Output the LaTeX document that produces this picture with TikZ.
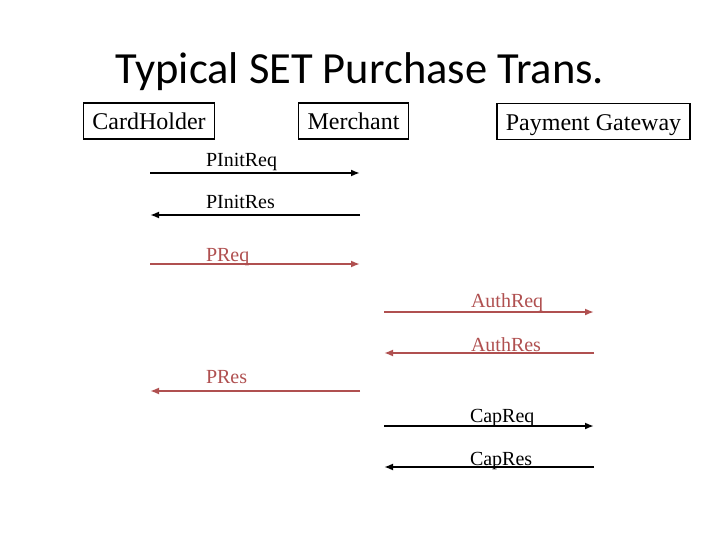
\documentclass[tikz,border=0pt]{standalone}
\usepackage{fontspec}
\setmainfont{Liberation Serif}
\newfontfamily\titlefont{Carlito}
\usetikzlibrary{arrows.meta}
\definecolor{msgred}{RGB}{176,80,80}
\begin{document}
\begin{tikzpicture}[x=1pt, y=-1pt, line width=2pt, >={Latex[length=9pt,width=7pt]},
    party/.style={draw, line width=1.6pt, font=\fontsize{24}{28}\selectfont, inner xsep=9pt, inner ysep=0pt,
      text height=22pt, text depth=4pt, minimum height=36pt},
    msg/.style={font=\fontsize{20}{24}\selectfont, anchor=base west, inner sep=0pt}]
    \useasboundingbox[fill=white] (0,0) rectangle (720,540);
    \node[font=\titlefont\fontsize{44.5}{52}\selectfont, anchor=base] (title) at (360,84) {Typical SET Purchase Trans.};
    % parties
    \node[party] (holder) at (149,121) {CardHolder};
    \node[party] (merchant) at (353.5,121) {Merchant};
    \node[party] (gateway) at (593.5,121.5) {Payment Gateway};
    % left lane: holder <-> merchant
    \coordinate (l1) at (150,173); \coordinate (r1) at (360,173);
    \draw[->] (l1) -- (r1);
    \node[msg] (pinitreq) at (205,167) {PInitReq};
    \coordinate (l2) at (150,215); \coordinate (r2) at (360,215);
    \draw[->] (r2) -- (l2);
    \node[msg] (pinitres) at (205,209) {PInitRes};
    \coordinate (l3) at (150,264); \coordinate (r3) at (360,264);
    \draw[->, msgred] (l3) -- (r3);
    \node[msg, text=msgred] (preq) at (205,261) {PReq};
    % right lane: merchant <-> gateway
    \coordinate (l4) at (384,312); \coordinate (r4) at (594,312);
    \draw[->, msgred] (l4) -- (r4);
    \node[msg, text=msgred] (authreq) at (470,307) {AuthReq};
    \coordinate (l5) at (384,353); \coordinate (r5) at (594,353);
    \draw[->, msgred] (r5) -- (l5);
    \node[msg, text=msgred] (authres) at (470,351) {AuthRes};
    % back to the holder
    \coordinate (l6) at (150,391); \coordinate (r6) at (360,391);
    \draw[->, msgred] (r6) -- (l6);
    \node[msg, text=msgred] (pres) at (205,383) {PRes};
    % capture
    \coordinate (l7) at (384,426); \coordinate (r7) at (594,426);
    \draw[->] (l7) -- (r7);
    \node[msg] (capreq) at (469,422) {CapReq};
    \coordinate (l8) at (384,467); \coordinate (r8) at (594,467);
    \draw[->] (r8) -- (l8);
    \node[msg] (capres) at (469,465) {CapRes};
\end{tikzpicture}
\end{document}
